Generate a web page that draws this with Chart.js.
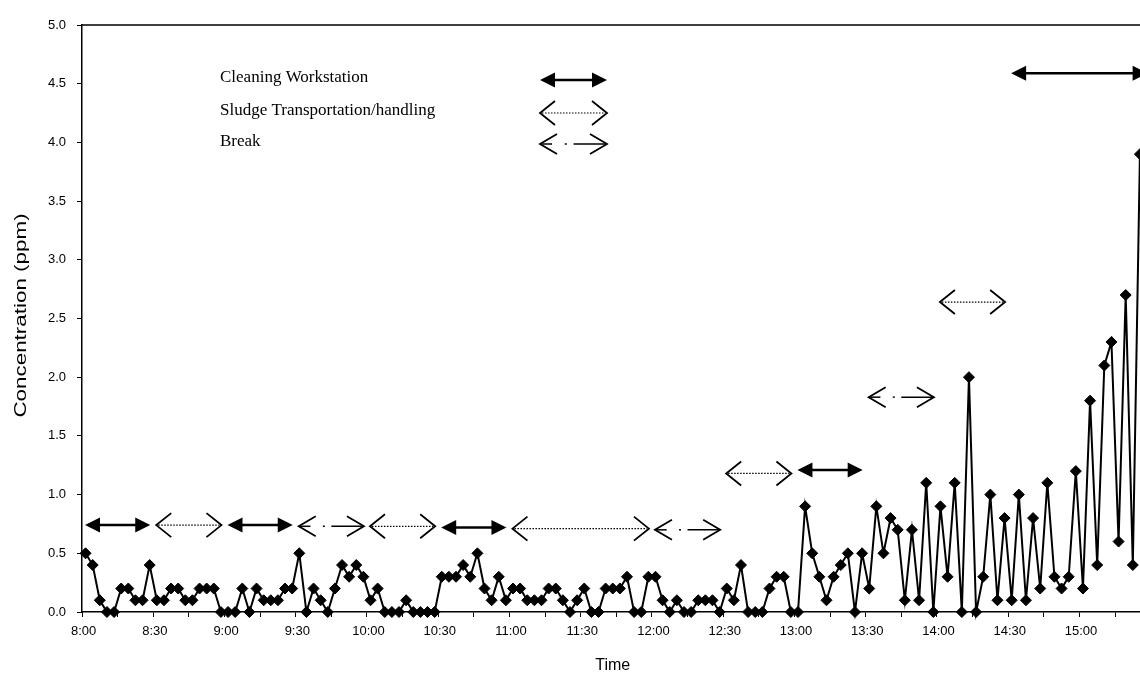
<!DOCTYPE html>
<html><head><meta charset="utf-8">
<script src="https://cdn.jsdelivr.net/npm/chart.js@4.4.1/dist/chart.umd.min.js"></script>
<style>
html,body{margin:0;padding:0;overflow:hidden;background:#fff;}
#wrap{position:relative;width:1150px;height:689px;}
</style></head><body>
<div id="wrap"><canvas id="c"></canvas></div>
<script>
// ---- data ----
const startTime = '8:00';
const sampleIntervalMin = 3;
const concentration = [
  0.5,0.4,0.1,0,0,0.2,0.2,0.1,0.1,0.4,
  0.1,0.1,0.2,0.2,0.1,0.1,0.2,0.2,0.2,0,
  0,0,0.2,0,0.2,0.1,0.1,0.1,0.2,0.2,
  0.5,0,0.2,0.1,0,0.2,0.4,0.3,0.4,0.3,
  0.1,0.2,0,0,0,0.1,0,0,0,0,
  0.3,0.3,0.3,0.4,0.3,0.5,0.2,0.1,0.3,0.1,
  0.2,0.2,0.1,0.1,0.1,0.2,0.2,0.1,0,0.1,
  0.2,0,0,0.2,0.2,0.2,0.3,0,0,0.3,
  0.3,0.1,0,0.1,0,0,0.1,0.1,0.1,0,
  0.2,0.1,0.4,0,0,0,0.2,0.3,0.3,0,
  0,0.9,0.5,0.3,0.1,0.3,0.4,0.5,0,0.5,
  0.2,0.9,0.5,0.8,0.7,0.1,0.7,0.1,1.1,0,
  0.9,0.3,1.1,0,2.0,0,0.3,1.0,0.1,0.8,
  0.1,1.0,0.1,0.8,0.2,1.1,0.3,0.2,0.3,1.2,
  0.2,1.8,0.4,2.1,2.3,0.6,2.7,0.4,3.9
];
const xTickLabels = ['8:00','8:30','9:00','9:30','10:00','10:30','11:00','11:30','12:00','12:30','13:00','13:30','14:00','14:30','15:00'];
const yMin = 0, yMax = 5, yStep = 0.5;
const xTitle = 'Time';
const yTitle = 'Concentration (ppm)';

const activityNames = ['Cleaning Workstation','Sludge Transportation/handling','Break'];
const activityStart = ['8:00','8:30','9:00','9:30','10:00','10:30','11:00','12:00','12:30','13:00','13:30','14:00','14:30'];
const activityEnd   = ['8:30','9:00','9:30','10:00','10:30','11:00','12:00','12:30','13:00','13:30','14:00','14:30','15:30'];
const activityKind  = [0,1,0,2,1,0,1,2,1,0,2,1,0];
const activityLevel = [0.74,0.74,0.74,0.73,0.73,0.72,0.71,0.70,1.18,1.21,1.83,2.64,4.59];

// ---- helpers ----
function toMin(s){const p=s.split(':').map(Number);return p[0]*60+p[1];}
function fmt(m){return Math.floor(m/60)+':'+String(m%60).padStart(2,'0');}
const sampleTimes = concentration.map((_,i)=>fmt(toMin(startTime)+i*sampleIntervalMin));

const SANS = '"Liberation Sans", Arial, sans-serif';
const SERIF = '"Liberation Serif", "Times New Roman", serif';

function drawArrow(ctx, x1, x2, y, kind){
  ctx.save();
  ctx.strokeStyle='#000'; ctx.fillStyle='#000';
  if(kind===0){
    const hl=15, hw=7.5;
    ctx.lineWidth=2.5;
    ctx.beginPath(); ctx.moveTo(x1+hl-2,y); ctx.lineTo(x2-hl+2,y); ctx.stroke();
    ctx.beginPath(); ctx.moveTo(x1,y); ctx.lineTo(x1+hl,y-hw); ctx.lineTo(x1+hl,y+hw); ctx.closePath(); ctx.fill();
    ctx.beginPath(); ctx.moveTo(x2,y); ctx.lineTo(x2-hl,y-hw); ctx.lineTo(x2-hl,y+hw); ctx.closePath(); ctx.fill();
  } else {
    const hl = kind===1?15:17, hw = kind===1?12:10;
    ctx.lineWidth=1.8; ctx.lineJoin='miter';
    ctx.beginPath(); ctx.moveTo(x1+hl,y-hw); ctx.lineTo(x1,y); ctx.lineTo(x1+hl,y+hw); ctx.stroke();
    ctx.beginPath(); ctx.moveTo(x2-hl,y-hw); ctx.lineTo(x2,y); ctx.lineTo(x2-hl,y+hw); ctx.stroke();
    if(kind===1){
      ctx.lineWidth=1.2; ctx.setLineDash([1.5,1.5]);
      ctx.beginPath(); ctx.moveTo(x1+2,y); ctx.lineTo(x2-2,y); ctx.stroke();
    } else {
      const L=x2-x1;
      ctx.lineWidth=1.5;
      ctx.beginPath(); ctx.moveTo(x1,y); ctx.lineTo(x1+0.18*L,y); ctx.stroke();
      ctx.beginPath(); ctx.moveTo(x1+0.37*L,y); ctx.lineTo(x1+0.40*L,y); ctx.stroke();
      ctx.beginPath(); ctx.moveTo(x1+0.5*L,y); ctx.lineTo(x2,y); ctx.stroke();
    }
  }
  ctx.restore();
}

const annotationPlugin = {
  id:'annot',
  afterDatasetsDraw(chart){
    const {ctx, chartArea:a, scales:{x,y}} = chart;
    // frame top line
    ctx.save();
    ctx.strokeStyle='#000'; ctx.lineWidth=1.5;
    ctx.beginPath(); ctx.moveTo(a.left,a.top); ctx.lineTo(a.right,a.top); ctx.lineTo(a.right,a.bottom); ctx.stroke();
    ctx.restore();
    // y-axis title (drawn stretched along its length, as in the source figure)
    ctx.save();
    ctx.fillStyle='#000'; ctx.font='16px '+SANS; ctx.textAlign='center'; ctx.textBaseline='middle';
    ctx.translate(22,(a.top+a.bottom)/2-3);
    ctx.rotate(-Math.PI/2);
    ctx.scale(1.4,1);
    ctx.fillText(yTitle,0,0);
    ctx.restore();
    // activity arrows
    const t0 = toMin(startTime);
    const timeToPx = s => x.getPixelForValue((toMin(s)-t0)/sampleIntervalMin - 0.5);
    for(let i=0;i<activityStart.length;i++){
      const x1 = timeToPx(activityStart[i])+3, x2 = timeToPx(activityEnd[i])-3;
      drawArrow(ctx, x1, x2, y.getPixelForValue(activityLevel[i]), activityKind[i]);
    }
    // legend
    ctx.save();
    ctx.fillStyle='#000'; ctx.font='17px '+SERIF; ctx.textBaseline='middle'; ctx.textAlign='left';
    const lx = a.left+138, ax1 = a.left+458, ax2 = a.left+525;
    const rows = [78,111,142];
    activityNames.forEach((n,k)=>{
      ctx.fillText(n, lx, rows[k]);
      drawArrow(ctx, ax1, ax2, rows[k]+2, k);
    });
    ctx.restore();
  }
};

new Chart(document.getElementById('c'), {
  type:'line',
  data:{
    labels: sampleTimes,
    datasets:[{
      label:'Concentration',
      data: concentration,
      borderColor:'#000', backgroundColor:'#000',
      borderWidth:2, tension:0,
      pointStyle:'rectRot', pointRadius:5.5, pointHoverRadius:5.5, pointBorderWidth:1,
      clip:false
    }]
  },
  options:{
    responsive:true, maintainAspectRatio:false, animation:false, events:[],
    layout:{padding:{left:0,right:6,top:25,bottom:0}},
    plugins:{legend:{display:false}, tooltip:{enabled:false}},
    scales:{
      x:{
        type:'category', offset:true,
        grid:{offset:true, drawOnChartArea:false, drawTicks:true, tickLength:5,
              color: c => (c.index%5===0 ? '#000' : 'rgba(0,0,0,0)'), lineWidth:1},
        border:{display:true, color:'#000', width:1.5},
        ticks:{autoSkip:false, maxRotation:0, minRotation:0, labelOffset:-2, padding:7, color:'#000',
               font:{family:SANS, size:13},
               callback:(v,i)=> (i%10===0 && xTickLabels[i/10]!==undefined) ? xTickLabels[i/10] : ''},
        title:{display:true, text:xTitle, color:'#000', font:{family:SANS, size:16}, padding:{top:4,bottom:14}},
        afterFit: s => { s.height = 77; }
      },
      y:{
        min:yMin, max:yMax,
        ticks:{stepSize:yStep, callback:v=>Number(v).toFixed(1), color:'#000', font:{family:SANS, size:13}, padding:11},
        grid:{drawOnChartArea:false, tickLength:5, color:'#000'},
        border:{display:true, color:'#000', width:1.5},
        title:{display:false, text:yTitle},
        afterFit: s => { s.width = 82; }
      }
    }
  },
  plugins:[annotationPlugin]
});
</script>
</body></html>
